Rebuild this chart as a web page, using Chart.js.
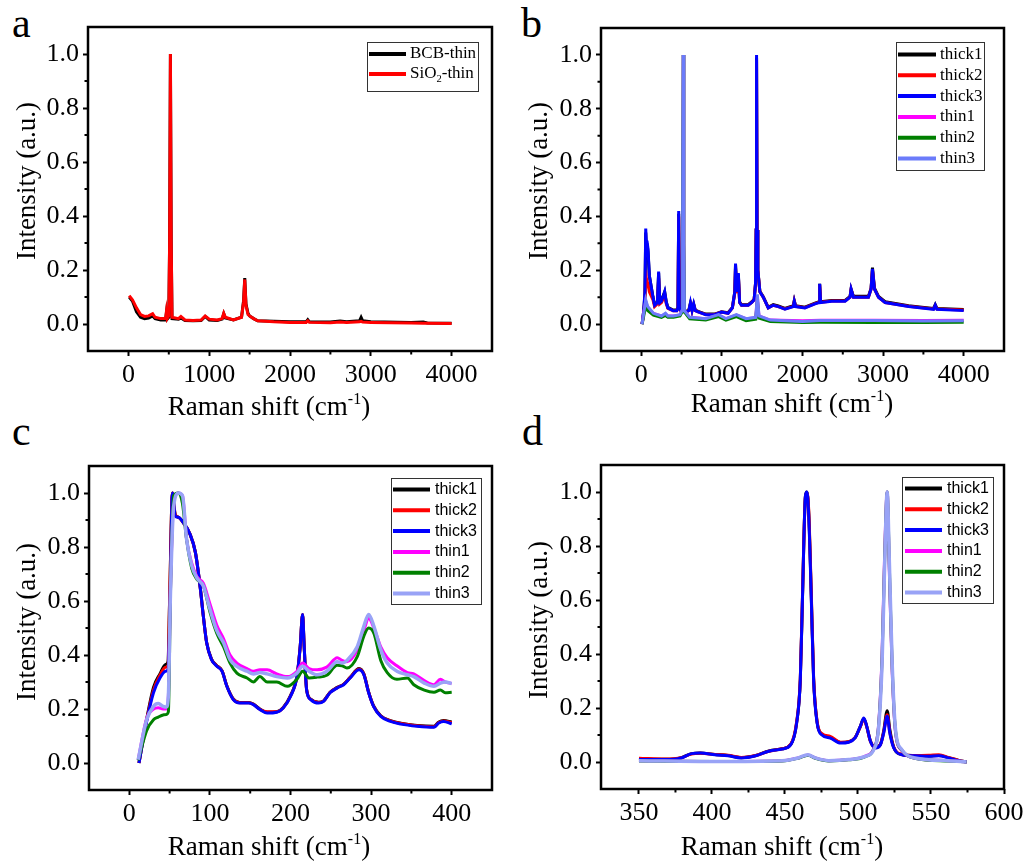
<!DOCTYPE html>
<html>
<head>
<meta charset="utf-8">
<script src="https://cdn.jsdelivr.net/npm/chart.js@4.4.1/dist/chart.umd.min.js"></script>
<style>
  body { margin: 0; background: #fff; width: 1031px; height: 863px; overflow: hidden; position: relative; }
  canvas { position: absolute; }
  .tag { position: absolute; font-family: "Liberation Serif", serif; font-size: 42px; line-height: 42px; color: #000; }
</style>
</head>
<body>
<div class="tag" style="left:12px;top:2px">a</div>
<div class="tag" style="left:521px;top:2px">b</div>
<div class="tag" style="left:12px;top:410px">c</div>
<div class="tag" style="left:522px;top:410px">d</div>
<canvas id="pa" width="515" height="430" style="left:0;top:0"></canvas>
<canvas id="pb" width="516" height="430" style="left:515px;top:0"></canvas>
<canvas id="pc" width="515" height="433" style="left:0;top:430px"></canvas>
<canvas id="pd" width="516" height="433" style="left:515px;top:430px"></canvas>
<script>
const SERIF = '"Liberation Serif", "Times New Roman", serif';
const SANS = '"Liberation Sans", Arial, sans-serif';

// ---- tick labels ----
const yTicks = [0, 0.2, 0.4, 0.6, 0.8, 1.0];
const yMinor = [0.1, 0.3, 0.5, 0.7, 0.9];
const xTicksAB = [0, 1000, 2000, 3000, 4000];
const xMinorAB = [500, 1500, 2500, 3500];
const xTicksC = [0, 100, 200, 300, 400];
const xMinorC = [50, 150, 250, 350];
const xTicksD = [350, 400, 450, 500, 550, 600];
const xMinorD = [375, 425, 475, 525, 575];

// ---- panel a ----
const labelsA = ['BCB-thin', 'SiO_2-thin'];
const xA = [10, 50, 100, 150, 200, 250, 300, 330, 400, 460,
  470, 480, 500, 510, 520, 530, 540, 620, 650, 700,
  800, 900, 950, 1000, 1100, 1160, 1180, 1200, 1300, 1400,
  1425, 1440, 1455, 1480, 1500, 1550, 1600, 1800, 2000, 2200,
  2220, 2240, 2500, 2620, 2700, 2860, 2880, 2900, 3000, 3500,
  3650, 3700, 4000];
const bcbThin = [0.1, 0.085, 0.045, 0.025, 0.02, 0.022, 0.03, 0.02, 0.015, 0.015,
  0.04, 0.018, 0.025, 0.3, 1.0, 0.3, 0.02, 0.018, 0.022, 0.013,
  0.012, 0.013, 0.028, 0.015, 0.013, 0.018, 0.038, 0.022, 0.015, 0.025,
  0.085, 0.17, 0.075, 0.04, 0.03, 0.02, 0.012, 0.01, 0.008, 0.008,
  0.016, 0.008, 0.007, 0.011, 0.008, 0.012, 0.025, 0.012, 0.008, 0.006,
  0.007, 0.004, 0.003];
const sio2Thin = [0.105, 0.09, 0.06, 0.035, 0.028, 0.03, 0.038, 0.025, 0.02, 0.02,
  0.045, 0.02, 0.03, 0.3, 1.0, 0.3, 0.025, 0.02, 0.028, 0.015,
  0.013, 0.015, 0.03, 0.018, 0.015, 0.02, 0.04, 0.025, 0.015, 0.025,
  0.08, 0.165, 0.07, 0.035, 0.03, 0.02, 0.012, 0.008, 0.006, 0.006,
  0.012, 0.006, 0.005, 0.007, 0.006, 0.008, 0.01, 0.007, 0.006, 0.004,
  0.003, 0.003, 0.002];

// ---- series names (b, c, d) ----
const seriesNames = ['thick1', 'thick2', 'thick3', 'thin1', 'thin2', 'thin3'];

// ---- panel b ----
const xBThick = [10, 30, 45, 55, 62, 70, 83, 100, 145, 165,
  200, 215, 230, 250, 280, 290, 310, 330, 395, 440,
  455, 464, 472, 490, 515, 520, 525, 560, 590, 610,
  630, 650, 670, 705, 800, 910, 995, 1077, 1130, 1160,
  1169, 1185, 1204, 1220, 1243, 1326, 1368, 1400, 1417, 1425,
  1430, 1436, 1446, 1471, 1513, 1575, 1637, 1700, 1782, 1886,
  1898, 1915, 2030, 2155, 2205, 2213, 2225, 2362, 2528, 2590,
  2603, 2632, 2818, 2851, 2868, 2893, 2943, 3025, 3315, 3481,
  3626, 3647, 3668, 4000];
const bThick1 = [0, 0.05, 0.11, 0.34, 0.29, 0.3, 0.27, 0.18, 0.1, 0.072,
  0.082, 0.19, 0.082, 0.088, 0.112, 0.12, 0.082, 0.062, 0.052, 0.052,
  0.062, 0.41, 0.062, 0.052, 0.052, 0.085, 0.052, 0.047, 0.052, 0.078,
  0.052, 0.074, 0.052, 0.047, 0.037, 0.037, 0.046, 0.042, 0.062, 0.12,
  0.22, 0.12, 0.185, 0.082, 0.072, 0.072, 0.082, 0.092, 0.15, 0.35,
  0.99, 0.35, 0.2, 0.122, 0.102, 0.062, 0.072, 0.067, 0.058, 0.068,
  0.087, 0.068, 0.063, 0.078, 0.083, 0.15, 0.083, 0.088, 0.088, 0.103,
  0.13, 0.103, 0.103, 0.133, 0.21, 0.133, 0.103, 0.083, 0.068, 0.063,
  0.058, 0.072, 0.058, 0.054];
const bThick2 = [0, 0.04, 0.09, 0.2, 0.17, 0.16, 0.15, 0.12, 0.09, 0.065,
  0.075, 0.17, 0.075, 0.08, 0.1, 0.11, 0.075, 0.058, 0.05, 0.05,
  0.058, 0.4, 0.058, 0.05, 0.05, 0.082, 0.05, 0.045, 0.05, 0.075,
  0.05, 0.072, 0.05, 0.045, 0.036, 0.036, 0.045, 0.04, 0.06, 0.115,
  0.21, 0.115, 0.18, 0.08, 0.07, 0.07, 0.08, 0.09, 0.15, 0.35,
  0.98, 0.35, 0.2, 0.12, 0.1, 0.06, 0.07, 0.065, 0.056, 0.066,
  0.085, 0.066, 0.061, 0.076, 0.081, 0.145, 0.081, 0.086, 0.086, 0.1,
  0.128, 0.1, 0.1, 0.13, 0.2, 0.13, 0.1, 0.08, 0.066, 0.061,
  0.056, 0.068, 0.056, 0.052];
const bThick3 = [0, 0.05, 0.12, 0.355, 0.3, 0.31, 0.28, 0.18, 0.1, 0.07,
  0.08, 0.195, 0.08, 0.085, 0.11, 0.12, 0.08, 0.06, 0.05, 0.05,
  0.06, 0.42, 0.06, 0.05, 0.05, 0.08, 0.05, 0.045, 0.05, 0.08,
  0.05, 0.075, 0.05, 0.045, 0.035, 0.035, 0.045, 0.04, 0.06, 0.12,
  0.225, 0.12, 0.19, 0.08, 0.07, 0.07, 0.08, 0.09, 0.15, 0.35,
  1.0, 0.35, 0.2, 0.12, 0.1, 0.06, 0.07, 0.065, 0.055, 0.065,
  0.085, 0.065, 0.06, 0.075, 0.08, 0.15, 0.08, 0.085, 0.085, 0.1,
  0.13, 0.1, 0.1, 0.13, 0.205, 0.13, 0.1, 0.08, 0.065, 0.06,
  0.055, 0.07, 0.055, 0.05];
const xBThin = [10, 30, 55, 80, 150, 250, 300, 330, 400, 480,
  505, 512, 520, 528, 535, 600, 800, 960, 1050, 1180,
  1300, 1420, 1440, 1460, 1600, 2000, 2220, 2880, 3500, 4000];
const bThin1 = [0, 0.04, 0.085, 0.06, 0.04, 0.03, 0.038, 0.03, 0.03, 0.034,
  0.05, 0.3, 1.0, 0.3, 0.05, 0.025, 0.02, 0.033, 0.02, 0.033,
  0.02, 0.024, 0.1, 0.03, 0.015, 0.012, 0.014, 0.014, 0.013, 0.014];
const bThin2 = [0, 0.03, 0.07, 0.05, 0.033, 0.025, 0.032, 0.025, 0.025, 0.03,
  0.045, 0.3, 1.0, 0.3, 0.045, 0.02, 0.015, 0.028, 0.015, 0.028,
  0.013, 0.018, 0.09, 0.022, 0.01, 0.006, 0.007, 0.006, 0.006, 0.007];
const bThin3 = [0, 0.04, 0.09, 0.065, 0.04, 0.03, 0.04, 0.03, 0.03, 0.035,
  0.05, 0.3, 1.0, 0.3, 0.05, 0.025, 0.02, 0.035, 0.02, 0.035,
  0.02, 0.025, 0.11, 0.03, 0.015, 0.01, 0.013, 0.013, 0.011, 0.012];

// ---- panel c ----
const xCThick = [12, 22, 30, 38, 45, 48, 50, 53.5, 57, 61,
  67, 75, 82, 88, 92, 96, 102, 108, 115, 121,
  129, 137, 148, 154, 162, 171, 183, 191, 200, 208,
  212, 215, 217, 220, 225, 235, 241, 249, 258, 266,
  274, 285, 291, 297, 303, 312, 324, 337, 357, 378,
  384, 390, 400];
const cThick1 = [0.0, 0.17, 0.28, 0.33, 0.365, 0.375, 0.6, 1.0, 0.92, 0.91,
  0.89, 0.85, 0.78, 0.65, 0.54, 0.445, 0.385, 0.362, 0.342, 0.286,
  0.237, 0.224, 0.224, 0.218, 0.2, 0.188, 0.19, 0.206, 0.25, 0.322,
  0.43, 0.55, 0.43, 0.272, 0.237, 0.225, 0.23, 0.262, 0.28, 0.292,
  0.317, 0.35, 0.33, 0.262, 0.212, 0.175, 0.157, 0.147, 0.139, 0.136,
  0.152, 0.157, 0.152];
const cThick2 = [0.0, 0.165, 0.27, 0.325, 0.355, 0.36, 0.6, 1.0, 0.92, 0.91,
  0.89, 0.85, 0.78, 0.65, 0.54, 0.445, 0.384, 0.361, 0.341, 0.285,
  0.236, 0.223, 0.223, 0.217, 0.199, 0.19, 0.19, 0.205, 0.248, 0.321,
  0.43, 0.55, 0.43, 0.271, 0.236, 0.224, 0.229, 0.261, 0.279, 0.291,
  0.316, 0.348, 0.329, 0.261, 0.211, 0.174, 0.156, 0.146, 0.138, 0.134,
  0.15, 0.156, 0.15];
const cThick3 = [0.0, 0.16, 0.26, 0.315, 0.34, 0.345, 0.5, 1.0, 0.915, 0.91,
  0.89, 0.85, 0.78, 0.65, 0.54, 0.445, 0.383, 0.36, 0.34, 0.284,
  0.235, 0.222, 0.222, 0.216, 0.198, 0.185, 0.188, 0.204, 0.247, 0.32,
  0.43, 0.55, 0.43, 0.27, 0.235, 0.222, 0.228, 0.26, 0.278, 0.29,
  0.315, 0.345, 0.327, 0.26, 0.21, 0.173, 0.154, 0.144, 0.136, 0.132,
  0.148, 0.154, 0.145];
const xCThin = [11, 21.5, 30, 36, 42, 46, 48.5, 51, 55, 61,
  66, 71, 77.5, 84, 92, 100, 108.6, 117, 125, 133.5,
  146, 154, 162, 171, 183, 196, 208, 215, 223, 233,
  245, 258, 264, 270, 283, 291, 297, 303.5, 312, 320,
  332, 345, 353, 366, 378, 386, 392, 400];
const cThin1 = [0.012, 0.165, 0.2, 0.205, 0.2, 0.2, 0.25, 0.63, 0.96, 1.0,
  0.99, 0.83, 0.74, 0.69, 0.665, 0.59, 0.51, 0.46, 0.4, 0.37,
  0.35, 0.34, 0.345, 0.345, 0.33, 0.32, 0.34, 0.37, 0.35, 0.345,
  0.355, 0.39, 0.38, 0.375, 0.42, 0.49, 0.535, 0.5, 0.43, 0.39,
  0.36, 0.335, 0.33, 0.305, 0.29, 0.31, 0.3, 0.295];
const cThin2 = [0.01, 0.12, 0.16, 0.17, 0.178, 0.18, 0.19, 0.62, 0.99, 1.0,
  0.96, 0.83, 0.72, 0.68, 0.655, 0.56, 0.48, 0.43, 0.37, 0.333,
  0.315, 0.3, 0.32, 0.3, 0.3, 0.284, 0.31, 0.34, 0.315, 0.318,
  0.325, 0.362, 0.36, 0.352, 0.395, 0.47, 0.5, 0.48, 0.38, 0.335,
  0.31, 0.315, 0.29, 0.27, 0.262, 0.27, 0.26, 0.262];
const cThin3 = [0.012, 0.16, 0.21, 0.22, 0.21, 0.207, 0.25, 0.62, 0.95, 1.0,
  0.99, 0.83, 0.73, 0.685, 0.655, 0.57, 0.49, 0.445, 0.383, 0.358,
  0.34, 0.33, 0.335, 0.33, 0.32, 0.315, 0.333, 0.358, 0.34, 0.327,
  0.34, 0.375, 0.37, 0.38, 0.432, 0.506, 0.55, 0.506, 0.42, 0.37,
  0.34, 0.327, 0.32, 0.296, 0.284, 0.296, 0.3, 0.294];

// ---- panel d ----
const xDThick = [350, 368, 379, 386, 392, 402, 411, 420, 430, 439,
  448, 454, 458, 460.5, 462, 464, 465, 466.2, 468, 469.6,
  472, 475.3, 481, 488, 493.6, 498, 501.6, 504, 506, 508.5,
  512, 515.4, 517.6, 520, 521.8, 524.5, 530, 539, 548.5, 555.4,
  562, 569, 574.4];
const dThick1 = [0.012, 0.01, 0.016, 0.031, 0.033, 0.028, 0.024, 0.016, 0.024, 0.041,
  0.049, 0.065, 0.145, 0.305, 0.61, 0.985, 1.0, 0.93, 0.62, 0.31,
  0.148, 0.103, 0.091, 0.072, 0.075, 0.09, 0.132, 0.16, 0.132, 0.078,
  0.054, 0.066, 0.115, 0.19, 0.12, 0.055, 0.028, 0.024, 0.022, 0.024,
  0.016, 0.006, 0.0];
const dThick2 = [0.014, 0.011, 0.016, 0.03, 0.032, 0.028, 0.025, 0.017, 0.024, 0.04,
  0.049, 0.066, 0.15, 0.31, 0.62, 0.98, 0.995, 0.94, 0.63, 0.315,
  0.15, 0.105, 0.095, 0.073, 0.075, 0.09, 0.13, 0.16, 0.13, 0.077,
  0.053, 0.065, 0.11, 0.175, 0.11, 0.054, 0.028, 0.024, 0.025, 0.027,
  0.017, 0.006, 0.0];
const dThick3 = [0.009, 0.009, 0.015, 0.031, 0.033, 0.027, 0.023, 0.015, 0.023, 0.04,
  0.048, 0.064, 0.145, 0.305, 0.61, 0.985, 1.0, 0.92, 0.61, 0.305,
  0.145, 0.1, 0.089, 0.07, 0.073, 0.089, 0.132, 0.163, 0.132, 0.077,
  0.052, 0.064, 0.107, 0.169, 0.107, 0.052, 0.027, 0.023, 0.021, 0.023,
  0.015, 0.005, 0.0];
const xDThin = [350, 402, 448, 459, 465.7, 470.8, 480, 493.6, 505, 510.8,
  514, 516.5, 518.3, 520, 521.5, 523.4, 525.7, 530, 539, 562, 574.4];
const dThin1 = [0.005, 0.002, 0.005, 0.015, 0.026, 0.015, 0.005, 0.009, 0.022, 0.05,
  0.13, 0.4, 0.78, 1.0, 0.7, 0.34, 0.11, 0.042, 0.014, 0.005, 0.0];
const dThin2 = [0.004, 0.002, 0.004, 0.014, 0.025, 0.014, 0.004, 0.008, 0.02, 0.048,
  0.125, 0.385, 0.76, 1.0, 0.72, 0.355, 0.115, 0.044, 0.014, 0.004, 0.0];
const dThin3 = [0.005, 0.002, 0.005, 0.015, 0.027, 0.015, 0.005, 0.009, 0.021, 0.046,
  0.12, 0.367, 0.738, 1.0, 0.738, 0.367, 0.12, 0.046, 0.015, 0.005, 0.0];

const colorsAB = ['#000000', '#ff0000', '#0000ff', '#ff00ff', '#008000', '#6b7bfa'];
const colorsCD = ['#000000', '#ff0000', '#0000ff', '#ff00ff', '#008000', '#99a3f6'];

function pts(xs, ys) { return xs.map((x, i) => ({ x: x, y: ys[i] })); }

function drawRich(ctx, text, x, y, size, family) {
  // "_2" -> subscript
  const parts = text.split(/_(\w)/);
  let cx = x;
  parts.forEach((p, i) => {
    const sub = i % 2 === 1;
    ctx.font = (sub ? size * 0.62 : size) + 'px ' + family;
    ctx.fillText(p, cx, sub ? y + size * 0.3 : y);
    cx += ctx.measureText(p).width;
  });
}

const framePlugin = {
  id: 'frame',
  afterDraw(chart, args, o) {
    const ctx = chart.ctx, a = chart.chartArea;
    const xs = chart.scales.x, ys = chart.scales.y;
    ctx.save();
    ctx.strokeStyle = '#000';
    ctx.lineWidth = 2.5;
    ctx.strokeRect(a.left, a.top, a.right - a.left, a.bottom - a.top);
    // minor ticks
    ctx.lineWidth = 2;
    ctx.beginPath();
    o.xMinor.forEach(v => {
      const px = xs.getPixelForValue(v);
      ctx.moveTo(px, a.bottom); ctx.lineTo(px, a.bottom + 3.5);
    });
    yMinor.forEach(v => {
      const py = ys.getPixelForValue(v);
      ctx.moveTo(a.left, py); ctx.lineTo(a.left - 3.5, py);
    });
    ctx.stroke();
    ctx.fillStyle = '#000';
    // y title
    ctx.save();
    ctx.translate(o.yTitle[0], o.yTitle[1]);
    ctx.rotate(-Math.PI / 2);
    ctx.font = '27px ' + SERIF;
    ctx.textAlign = 'center';
    ctx.textBaseline = 'middle';
    ctx.fillText('Intensity (a.u.)', 0, 0);
    ctx.restore();
    // x title with superscript
    ctx.textAlign = 'left';
    ctx.textBaseline = 'alphabetic';
    const t1 = 'Raman shift (cm', t2 = '-1', t3 = ')';
    ctx.font = '27px ' + SERIF;
    const w1 = ctx.measureText(t1).width, w3 = ctx.measureText(t3).width;
    ctx.font = '16px ' + SERIF;
    const w2 = ctx.measureText(t2).width;
    let x0 = o.xTitle[0] - (w1 + w2 + w3) / 2;
    const by = o.xTitle[1];
    ctx.font = '27px ' + SERIF;
    ctx.fillText(t1, x0, by);
    ctx.font = '16px ' + SERIF;
    ctx.fillText(t2, x0 + w1, by - 11);
    ctx.font = '27px ' + SERIF;
    ctx.fillText(t3, x0 + w1 + w2, by);
    // legend
    const L = o.legend;
    ctx.lineWidth = 1;
    ctx.strokeStyle = '#333';
    ctx.strokeRect(L.x + 0.5, L.y + 0.5, L.w, L.h);
    ctx.textBaseline = 'middle';
    chart.data.datasets.forEach((ds, i) => {
      const ry = L.row0 + i * L.step;
      ctx.strokeStyle = ds.borderColor;
      ctx.lineWidth = 4;
      ctx.beginPath();
      ctx.moveTo(L.x0, ry); ctx.lineTo(L.x1, ry);
      ctx.stroke();
      ctx.fillStyle = '#000';
      drawRich(ctx, ds.label, L.tx, ry, L.size, L.family);
    });
    ctx.restore();
  }
};

function makePanel(id, p) {
  const n = p.series.length;
  const datasets = p.series.map((s, i) => ({
    label: s.label,
    data: pts(s.x, s.y),
    borderColor: s.color,
    backgroundColor: s.color,
    borderWidth: s.width || 3,
    pointRadius: 0,
    cubicInterpolationMode: p.smooth ? 'monotone' : 'default',
    tension: 0,
    order: n - i
  }));
  const tickFont = { family: SERIF, size: 26 };
  const grid = { display: true, drawOnChartArea: false, drawTicks: true, tickLength: 5, tickWidth: 2, tickColor: '#000' };
  new Chart(document.getElementById(id), {
    type: 'line',
    data: { datasets: datasets },
    options: {
      responsive: false,
      animation: false,
      devicePixelRatio: 1,
      layout: { padding: { top: p.area.t, right: p.area.r, left: 0, bottom: 0 } },
      scales: {
        x: {
          type: 'linear', min: p.xMin, max: p.xMax,
          afterBuildTicks: s => { s.ticks = p.xTicks.map(v => ({ value: v })); },
          afterFit: s => { s.height = p.area.b; },
          ticks: { font: tickFont, color: '#000', padding: 4, autoSkip: false, maxRotation: 0, callback: v => String(v) },
          grid: grid,
          border: { display: false }
        },
        y: {
          type: 'linear', min: -0.1, max: 1.1,
          afterBuildTicks: s => { s.ticks = yTicks.map(v => ({ value: v })); },
          afterFit: s => { s.width = p.area.l; },
          ticks: { font: tickFont, color: '#000', padding: 4, callback: v => v.toFixed(1) },
          grid: grid,
          border: { display: false }
        }
      },
      plugins: {
        legend: { display: false },
        tooltip: { enabled: false },
        frame: { xMinor: p.xMinor, yTitle: p.yTitle, xTitle: p.xTitle, legend: p.legend }
      }
    },
    plugins: [framePlugin]
  });
}

makePanel('pa', {
  area: { l: 88, t: 27, r: 23, b: 79 },
  xMin: -500, xMax: 4500, xTicks: xTicksAB, xMinor: xMinorAB,
  yTitle: [28, 181], xTitle: [269, 415],
  legend: { x: 367, y: 42, w: 111, h: 49, x0: 369, x1: 406, tx: 410, row0: 54, step: 20, size: 17, family: SERIF },
  series: [
    { label: labelsA[0], x: xA, y: bcbThin, color: '#000000' },
    { label: labelsA[1], x: xA, y: sio2Thin, color: '#ff0000' }
  ]
});

makePanel('pb', {
  area: { l: 86, t: 28, r: 27, b: 79 },
  xMin: -500, xMax: 4500, xTicks: xTicksAB, xMinor: xMinorAB,
  yTitle: [25, 181], xTitle: [277, 412],
  legend: { x: 381, y: 42, w: 88, h: 128, x0: 383, x1: 421, tx: 425, row0: 54.5, step: 20.8, size: 17, family: SERIF },
  series: [
    { label: seriesNames[0], x: xBThick, y: bThick1, color: colorsAB[0] },
    { label: seriesNames[1], x: xBThick, y: bThick2, color: colorsAB[1] },
    { label: seriesNames[2], x: xBThick, y: bThick3, color: colorsAB[2] },
    { label: seriesNames[3], x: xBThin, y: bThin1, color: colorsAB[3] },
    { label: seriesNames[4], x: xBThin, y: bThin2, color: colorsAB[4] },
    { label: seriesNames[5], x: xBThin, y: bThin3, color: colorsAB[5] }
  ]
});

makePanel('pc', {
  area: { l: 89, t: 36, r: 23, b: 73 },
  xMin: -50, xMax: 450, xTicks: xTicksC, xMinor: xMinorC, smooth: true,
  yTitle: [28, 192], xTitle: [269, 425],
  legend: { x: 391, y: 48, w: 90, h: 126, x0: 393, x1: 430, tx: 435, row0: 59.5, step: 20.8, size: 16, family: SANS },
  series: [
    { label: seriesNames[0], x: xCThick, y: cThick1, color: colorsCD[0] },
    { label: seriesNames[1], x: xCThick, y: cThick2, color: colorsCD[1] },
    { label: seriesNames[2], x: xCThick, y: cThick3, color: colorsCD[2] },
    { label: seriesNames[3], x: xCThin, y: cThin1, color: colorsCD[3] },
    { label: seriesNames[4], x: xCThin, y: cThin2, color: colorsCD[4] },
    { label: seriesNames[5], x: xCThin, y: cThin3, color: colorsCD[5], width: 3.5 }
  ]
});

makePanel('pd', {
  area: { l: 86, t: 35, r: 27, b: 74 },
  xMin: 324, xMax: 600, xTicks: xTicksD, xMinor: xMinorD, smooth: true,
  yTitle: [25, 190], xTitle: [267, 425],
  legend: { x: 387, y: 47, w: 91, h: 126, x0: 390, x1: 427, tx: 432, row0: 58.5, step: 20.8, size: 16, family: SANS },
  series: [
    { label: seriesNames[0], x: xDThick, y: dThick1, color: colorsCD[0] },
    { label: seriesNames[1], x: xDThick, y: dThick2, color: colorsCD[1] },
    { label: seriesNames[2], x: xDThick, y: dThick3, color: colorsCD[2] },
    { label: seriesNames[3], x: xDThin, y: dThin1, color: colorsCD[3] },
    { label: seriesNames[4], x: xDThin, y: dThin2, color: colorsCD[4] },
    { label: seriesNames[5], x: xDThin, y: dThin3, color: colorsCD[5], width: 3.5 }
  ]
});
</script>
</body>
</html>
